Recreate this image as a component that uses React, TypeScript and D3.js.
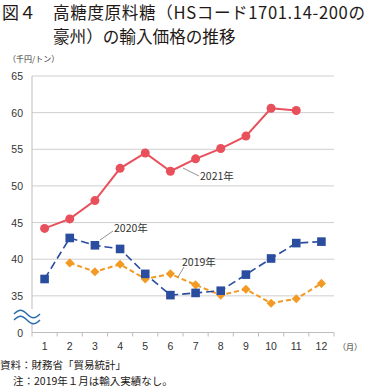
import * as d3 from "d3";

const months = [1, 2, 3, 4, 5, 6, 7, 8, 9, 10, 11, 12];
const yTicks = [35, 40, 45, 50, 55, 60, 65];

// 2021年 (1〜11月)
const price2021 = [44.2, 45.5, 48.0, 52.4, 54.5, 52.0, 53.7, 55.1, 56.8, 60.6, 60.3, null];
// 2020年
const price2020 = [37.3, 42.9, 41.9, 41.4, 38.0, 35.1, 35.4, 35.7, 37.9, 40.1, 42.2, 42.4];
// 2019年 (1月は輸入実績なし)
const price2019 = [null, 39.5, 38.3, 39.3, 37.3, 38.0, 36.5, 35.1, 35.9, 34.0, 34.6, 36.7];

const W = 370;
const H = 391;
const left = 32;
const right = 334;
const jp = "'Noto Sans CJK JP', 'Noto Sans', sans-serif";
const num = "'Liberation Sans', Arial, sans-serif";

const RED = "#e8515c";
const BLUE = "#2a4d9f";
const ORANGE = "#f29a23";

const x = d3.scalePoint<number>().domain(months).range([left, right]).padding(0.5);
const y = d3.scaleLinear().domain([30, 65]).range([332.5, 76]);

type Pt = { m: number; v: number };
const toPts = (arr: (number | null)[]): Pt[] =>
  arr.map((v, i) => ({ m: months[i], v: v as number })).filter((d) => d.v != null);

const line = d3
  .line<Pt>()
  .x((d) => x(d.m)!)
  .y((d) => y(d.v));

const App = () => {
  const p21 = toPts(price2021);
  const p20 = toPts(price2020);
  const p19 = toPts(price2019);
  const step = x.step();
  const bottom = y(30);

  // wavy break mark
  const wave = (y0: number) => {
    const path = d3.path();
    path.moveTo(14, y0);
    path.bezierCurveTo(19, y0 - 5, 22, y0 - 5, 27, y0);
    path.bezierCurveTo(32, y0 + 5, 35, y0 + 5, 40, y0);
    return path.toString();
  };

  return (
    <svg width={W} height={H} style={{ position: "absolute", left: 0, top: 0, background: "#fff" }}>
      {/* title */}
      <text x={2} y={19} fontFamily={jp} fontSize={17} fill="#231815">
        図４
      </text>
      <text x={53} y={19} fontFamily={jp} fontSize={16.6} fill="#231815" textLength={312} lengthAdjust="spacing">
        高糖度原料糖（HSコード1701.14-200の
      </text>
      <text x={53} y={43} fontFamily={jp} fontSize={16.6} fill="#231815">
        豪州）の輸入価格の推移
      </text>
      <text x={8} y={62} fontFamily={jp} fontSize={8} fill="#333">
        （千円/トン）
      </text>

      {/* gridlines */}
      {yTicks.map((t) => (
        <line key={t} x1={left} x2={right} y1={y(t)} y2={y(t)} stroke="#cfcfcf" strokeWidth={1} />
      ))}
      <line x1={left} x2={right} y1={bottom} y2={bottom} stroke="#bdbdbd" strokeWidth={1} />
      {/* x ticks */}
      {d3.range(13).map((i) => (
        <line
          key={i}
          x1={left + i * step}
          x2={left + i * step}
          y1={bottom}
          y2={bottom + 4}
          stroke="#bdbdbd"
          strokeWidth={1}
        />
      ))}
      {/* y axis with break */}
      <line x1={left} x2={left} y1={y(65)} y2={y(33.2)} stroke="#bdbdbd" strokeWidth={1} />
      <line x1={left} x2={left} y1={y(31.2)} y2={bottom} stroke="#bdbdbd" strokeWidth={1} />
      <path d={wave(314)} fill="none" stroke="#2b6cb0" strokeWidth={1.5} />
      <path d={wave(320)} fill="none" stroke="#2b6cb0" strokeWidth={1.5} />

      {/* y labels */}
      {yTicks.map((t) => (
        <text key={t} x={23} y={y(t) + 4} textAnchor="end" fontFamily={num} fontSize={10.5} fill="#333">
          {t}
        </text>
      ))}
      <text x={23} y={bottom + 4} textAnchor="end" fontFamily={num} fontSize={10.5} fill="#333">
        0
      </text>

      {/* x labels */}
      {months.map((m) => (
        <text key={m} x={x(m)} y={350} textAnchor="middle" fontFamily={num} fontSize={10.5} fill="#333">
          {m}
        </text>
      ))}
      <text x={338} y={350} fontFamily={jp} fontSize={8} fill="#333">
        （月）
      </text>

      {/* 2019 */}
      <path d={line(p19)!} fill="none" stroke={ORANGE} strokeWidth={2} strokeDasharray="5,3" />
      {p19.map((d) => (
        <rect
          key={d.m}
          x={-3.2}
          y={-3.2}
          width={6.4}
          height={6.4}
          fill={ORANGE}
          transform={`translate(${x(d.m)},${y(d.v)}) rotate(45)`}
        />
      ))}

      {/* 2020 */}
      <path d={line(p20)!} fill="none" stroke={BLUE} strokeWidth={1.6} strokeDasharray="8,4" />
      {p20.map((d) => (
        <rect key={d.m} x={x(d.m)! - 4.3} y={y(d.v) - 4.3} width={8.6} height={8.6} fill={BLUE} />
      ))}

      {/* 2021 */}
      <path d={line(p21)!} fill="none" stroke={RED} strokeWidth={2} />
      {p21.map((d) => (
        <circle key={d.m} cx={x(d.m)} cy={y(d.v)} r={4.5} fill={RED} />
      ))}

      {/* annotations */}
      <polyline points="183,168 199,176" fill="none" stroke="#777" strokeWidth={0.8} />
      <text x={200} y={180} fontFamily={jp} fontSize={10.5} fill="#333">
        2021年
      </text>
      <polyline points="100,240 113,231" fill="none" stroke="#777" strokeWidth={0.8} />
      <text x={114} y={232} fontFamily={jp} fontSize={10.5} fill="#333">
        2020年
      </text>
      <polyline points="178,277 184,267" fill="none" stroke="#777" strokeWidth={0.8} />
      <text x={182} y={266} fontFamily={jp} fontSize={10.5} fill="#333">
        2019年
      </text>

      {/* source */}
      <text x={0} y={369} fontFamily={jp} fontSize={10.5} fill="#231815">
        資料：財務省「貿易統計」
      </text>
      <text x={13} y={385} fontFamily={jp} fontSize={10.5} fill="#231815">
        注：2019年１月は輸入実績なし。
      </text>
    </svg>
  );
};

export default App;
